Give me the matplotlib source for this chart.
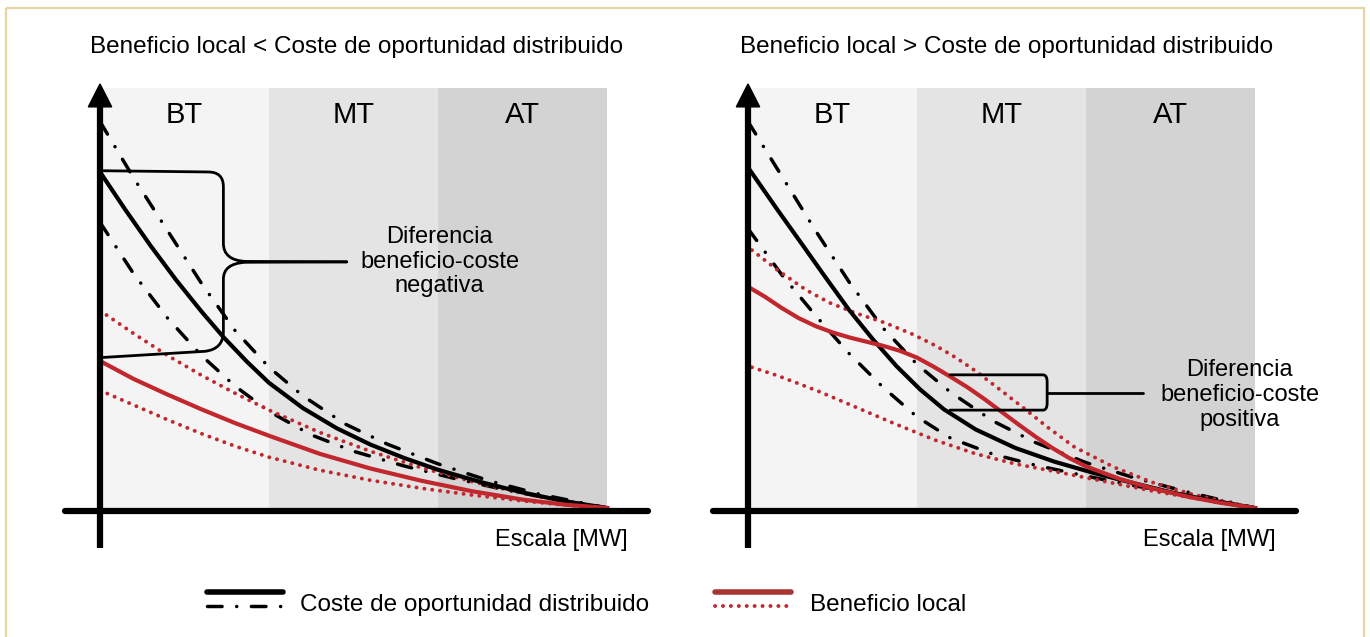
import matplotlib
matplotlib.use('Agg')
import matplotlib.pyplot as plt
from matplotlib.path import Path
from matplotlib.patches import PathPatch, Polygon, Rectangle

# x in voltage-band units (BT 0-1, MT 1-2, AT 2-3), y as fraction of band height
bands = ['BT', 'MT', 'AT']
band_pos = [0.5, 1.5, 2.5]

titles = ['Beneficio local < Coste de oportunidad distribuido',
          'Beneficio local > Coste de oportunidad distribuido']
notes = ['Diferencia\nbeneficio-coste\nnegativa',
         'Diferencia\nbeneficio-coste\npositiva']
legend_cost = 'Coste de oportunidad distribuido'
legend_benefit = 'Beneficio local'
xlabel = 'Escala [MW]'

# left panel
l_cost_x = [0, 0.15, 0.3, 0.45, 0.6, 0.73, 0.87, 1.0, 1.2, 1.4, 1.6, 1.8, 2.0, 2.25, 2.5, 2.75, 3.0]
l_cost_y = [0.80, 0.71, 0.624, 0.543, 0.468, 0.407, 0.348, 0.298, 0.238, 0.19, 0.151, 0.119, 0.091, 0.062, 0.037, 0.016, 0.0]
l_cost_hi_x = [0, 0.2, 0.4, 0.6, 0.8, 1.0, 1.2, 1.45, 1.7, 2.0, 2.3, 2.6, 3.0]
l_cost_hi_y = [0.92, 0.785, 0.66, 0.535, 0.422, 0.335, 0.267, 0.2, 0.152, 0.105, 0.065, 0.033, 0.0]
l_cost_lo_x = [0, 0.2, 0.4, 0.6, 0.8, 1.0, 1.25, 1.5, 1.8, 2.1, 2.4, 2.7, 3.0]
l_cost_lo_y = [0.68, 0.557, 0.452, 0.363, 0.29, 0.23, 0.174, 0.135, 0.1, 0.07, 0.043, 0.02, 0.0]
l_ben_x = [0, 0.2, 0.4, 0.6, 0.8, 1.0, 1.3, 1.6, 1.9, 2.2, 2.5, 2.75, 3.0]
l_ben_y = [0.35, 0.307, 0.27, 0.235, 0.202, 0.172, 0.129, 0.094, 0.065, 0.04, 0.02, 0.008, 0.0]
l_ben_hi_x = [0, 0.2, 0.4, 0.6, 0.8, 1.0, 1.3, 1.6, 1.9, 2.2, 2.5, 2.75, 3.0]
l_ben_hi_y = [0.47, 0.415, 0.363, 0.316, 0.273, 0.233, 0.18, 0.135, 0.096, 0.063, 0.035, 0.015, 0.0]
l_ben_lo_x = [0, 0.2, 0.4, 0.6, 0.8, 1.0, 1.3, 1.6, 1.9, 2.2, 2.5, 2.75, 3.0]
l_ben_lo_y = [0.28, 0.245, 0.21, 0.177, 0.147, 0.121, 0.09, 0.066, 0.047, 0.031, 0.017, 0.007, 0.0]

# right panel
r_cost_x = [0.01, 0.176, 0.316, 0.457, 0.597, 0.738, 0.878, 1.019, 1.159, 1.347, 1.581, 1.815, 2.049, 2.283, 2.517, 2.75, 3.0]
r_cost_y = [0.805, 0.709, 0.63, 0.55, 0.472, 0.402, 0.338, 0.282, 0.235, 0.187, 0.143, 0.11, 0.083, 0.059, 0.036, 0.017, 0.0]
r_cost_hi_x = [0, 0.2, 0.4, 0.6, 0.8, 1.0, 1.2, 1.45, 1.7, 2.0, 2.3, 2.6, 3.0]
r_cost_hi_y = [0.92, 0.79, 0.66, 0.537, 0.428, 0.342, 0.275, 0.207, 0.156, 0.108, 0.07, 0.038, 0.0]
r_cost_lo_x = [0, 0.2, 0.4, 0.6, 0.8, 1.0, 1.2, 1.45, 1.7, 2.0, 2.3, 2.6, 3.0]
r_cost_lo_y = [0.665, 0.555, 0.458, 0.367, 0.287, 0.217, 0.166, 0.128, 0.102, 0.076, 0.052, 0.03, 0.0]
r_ben_x = [0.02, 0.1, 0.2, 0.3, 0.4, 0.5, 0.6, 0.7, 0.8, 0.9, 1.0, 1.1, 1.2, 1.3, 1.4, 1.5,
           1.6, 1.7, 1.8, 1.9, 2.0, 2.2, 2.4, 2.6, 2.8, 3.0]
r_ben_y = [0.522, 0.503, 0.476, 0.452, 0.433, 0.418, 0.406, 0.396, 0.386, 0.374, 0.358, 0.336, 0.312,
           0.287, 0.259, 0.229, 0.199, 0.17, 0.143, 0.119, 0.099, 0.069, 0.046, 0.027, 0.012, 0.0]
r_ben_hi_x = [0.023, 0.176, 0.34, 0.48, 0.644, 0.81, 0.972, 1.112, 1.23, 1.347, 1.487, 1.628, 1.77,
              1.932, 2.166, 2.4, 2.634, 3.0]
r_ben_hi_y = [0.614, 0.566, 0.52, 0.489, 0.463, 0.441, 0.414, 0.386, 0.358, 0.326, 0.283, 0.239, 0.193,
              0.145, 0.097, 0.06, 0.032, 0.0]
r_ben_lo_x = [0.023, 0.176, 0.41, 0.644, 0.878, 1.112, 1.347, 1.58, 1.815, 2.05, 2.4, 2.75, 3.0]
r_ben_lo_y = [0.335, 0.315, 0.279, 0.239, 0.199, 0.161, 0.129, 0.105, 0.087, 0.068, 0.04, 0.016, 0.0]

RED = '#c1272d'
BAND_COLORS = ['#f4f4f4', '#e4e4e4', '#d3d3d3']
DASHDOT = (0, (10.5, 10.5, 0.1, 10.5))
DOTTED = (0, (0.1, 5.6))

plt.rcParams['font.family'] = ['Liberation Sans', 'DejaVu Sans']
plt.rcParams['lines.scale_dashes'] = False

fig = plt.figure(figsize=(13.7, 6.37), dpi=100)


def draw_panel(ax, curves, bracket, note_xy, note):
    ax.set_xlim(-0.25, 3.3)
    ax.set_ylim(-0.12, 1.02)
    ax.axis('off')
    ax.bar(band_pos, [1, 1, 1], width=1.0, color=BAND_COLORS, zorder=0)
    for pos, lab in zip(band_pos, bands):
        ax.text(pos, 0.936, lab, ha='center', va='center', fontsize=21)
    (cx, cy), (hx, hy), (lx, ly), (bx, by), (bhx, bhy), (blx, bly) = curves
    ax.plot(hx, hy, color='k', lw=2.5, ls=DASHDOT, dash_capstyle='round', zorder=2)
    ax.plot(lx, ly, color='k', lw=2.5, ls=DASHDOT, dash_capstyle='round', zorder=2)
    ax.plot(bhx, bhy, color=RED, lw=2.8, ls=DOTTED, dash_capstyle='round', zorder=2)
    ax.plot(blx, bly, color=RED, lw=2.8, ls=DOTTED, dash_capstyle='round', zorder=2)
    ax.plot(cx, cy, color='k', lw=3.0, zorder=3, solid_joinstyle='round')
    ax.plot(bx, by, color=RED, lw=3.0, zorder=3, solid_joinstyle='round')
    for verts, codes in bracket:
        ax.add_patch(PathPatch(Path(verts, codes), fill=False, lw=2.0, ec='k',
                               capstyle='round', joinstyle='round', zorder=4))
    ax.text(note_xy[0], note_xy[1], note, ha='center', va='center', fontsize=17,
            linespacing=1.15)
    # axes
    ax.plot([-0.207, 3.243], [-0.006, -0.006], color='k', lw=4.5,
            solid_capstyle='round', zorder=5)
    ax.plot([0, 0], [-0.095, 0.96], color='k', lw=4.5, solid_capstyle='butt', zorder=5)
    ax.add_patch(Polygon([(-0.069, 0.955), (0.069, 0.955), (0, 1.0095)], closed=True,
                         color='k', zorder=5))
    ax.text(3.124, -0.076, xlabel, ha='right', va='center', fontsize=17)


M, L, C = Path.MOVETO, Path.LINETO, Path.CURVE3
left_bracket = [
    ([(0.0, 0.803), (0.64, 0.800), (0.73, 0.800), (0.73, 0.765), (0.73, 0.63),
      (0.73, 0.59), (0.86, 0.587), (1.46, 0.586)],
     [M, L, C, C, L, C, C, L]),
    ([(1.46, 0.586), (0.86, 0.585), (0.73, 0.582), (0.73, 0.545), (0.73, 0.42),
      (0.73, 0.378), (0.62, 0.373), (0.0, 0.358)],
     [M, L, C, C, L, C, C, L]),
]
right_bracket = [
    ([(1.195, 0.317), (1.745, 0.317), (1.77, 0.317), (1.77, 0.30), (1.77, 0.25),
      (1.77, 0.233), (1.745, 0.233), (1.195, 0.233)],
     [M, L, C, C, L, C, C, L]),
    ([(1.77, 0.274), (2.34, 0.274)], [M, L]),
]

ax1 = fig.add_axes([57.75 / 1370, 0.1234, 600 / 1370, 0.7517])
draw_panel(ax1, [(l_cost_x, l_cost_y), (l_cost_hi_x, l_cost_hi_y), (l_cost_lo_x, l_cost_lo_y),
                 (l_ben_x, l_ben_y), (l_ben_hi_x, l_ben_hi_y), (l_ben_lo_x, l_ben_lo_y)],
           left_bracket, (2.01, 0.586), notes[0])

ax2 = fig.add_axes([705.75 / 1370, 0.1234, 600 / 1370, 0.7517])
draw_panel(ax2, [(r_cost_x, r_cost_y), (r_cost_hi_x, r_cost_hi_y), (r_cost_lo_x, r_cost_lo_y),
                 (r_ben_x, r_ben_y), (r_ben_hi_x, r_ben_hi_y), (r_ben_lo_x, r_ben_lo_y)],
           right_bracket, (2.91, 0.269), notes[1])

# overlay in pixel coordinates for titles, legend and frame
over = fig.add_axes([0, 0, 1, 1], zorder=10)
over.set_xlim(0, 1370)
over.set_ylim(637, 0)
over.axis('off')
over.patch.set_alpha(0)
over.add_patch(Rectangle((6, 8), 1358, 650, fill=False, ec='#e6d5a0', lw=1.6))
over.text(90, 47, titles[0], ha='left', va='center', fontsize=17.5)
over.text(740, 47, titles[1], ha='left', va='center', fontsize=17.5)

over.plot([207, 283], [592, 592], color='k', lw=4.0, solid_capstyle='round')
over.plot([207, 283], [606, 606], color='k', lw=2.5, ls=DASHDOT, dash_capstyle='round')
over.text(300, 605, legend_cost, ha='left', va='center', fontsize=17.5)
over.plot([715, 791], [592, 592], color='#a93434', lw=4.0, solid_capstyle='round')
over.plot([715, 791], [606, 606], color=RED, lw=2.8, ls=DOTTED, dash_capstyle='round')
over.text(810, 605, legend_benefit, ha='left', va='center', fontsize=17.5)

fig.savefig('out.png', dpi=100)
